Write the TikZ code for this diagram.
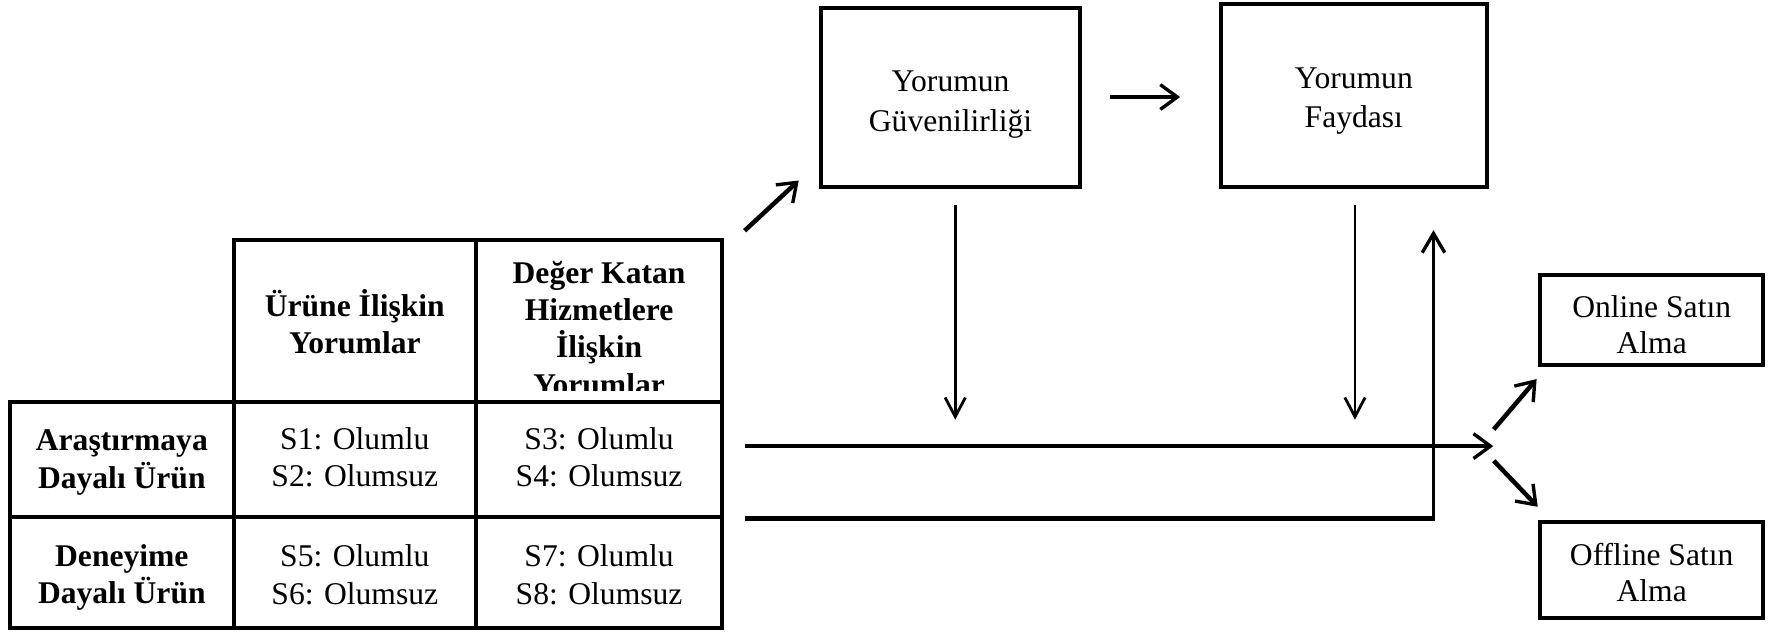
\documentclass[tikz,border=0pt]{standalone}
\usepackage{fontspec}
\setmainfont{Liberation Serif}
\usetikzlibrary{arrows.meta}
\begin{document}
\begin{tikzpicture}[x=1pt,y=-1pt,
  txt/.style={font=\fontsize{28}{33}\selectfont, align=center, inner sep=0pt},
  btxt/.style={font=\fontsize{28}{33}\selectfont\bfseries, align=center, inner sep=0pt},
  box/.style={draw, line width=3.5pt, inner sep=0pt},
  cell/.style={draw, line width=3.5pt, inner sep=0pt},
  thickarrow/.style={line width=4pt, -{Straight Barb[length=15pt,width=22pt,line width=3pt]}},
  thinarrow/.style={line width=2.3pt, -{Straight Barb[length=17pt,width=18pt,line width=2.5pt]}},
  midarrow/.style={line width=3pt, -{Straight Barb[length=17pt,width=20pt,line width=3pt]}},
]
\useasboundingbox (0,0) rectangle (1568,560);

% top boxes
\node[box, minimum width=230pt, minimum height=158pt] (gv) at (842.5,86.5) {};
\node[txt, font=\fontsize{28}{35}\selectfont] (gvt) at (842.5,92.5) {Yorumun\\Güvenilirliği};
\node[box, minimum width=236pt, minimum height=162pt] (fy) at (1200,84.5) {};
\node[txt, font=\fontsize{28}{34}\selectfont] (fyt) at (1200,89.5) {Yorumun\\Faydası};
% outcome boxes
\node[box, minimum width=198pt, minimum height=80pt] (on) at (1464,283.7) {};
\node[txt, font=\fontsize{28}{32}\selectfont] (ont) at (1464,287.7) {Online Satın\\Alma};
\node[box, minimum width=198pt, minimum height=85.5pt] (off) at (1464,505.3) {};
\node[txt, font=\fontsize{28}{32}\selectfont] (offt) at (1464,507.5) {Offline Satın\\Alma};

% table: header 2 text clipped by its cell
\begin{scope}
  \clip (422,213) rectangle (640,346);
  \node[btxt] (h2t) at (531,291) {Değer Katan\\Hizmetlere\\İlişkin\\Yorumlar};
\end{scope}
\node[cell, minimum width=215pt, minimum height=143pt] (h1) at (314.5,284.5) {};
\node[cell, minimum width=218pt, minimum height=143pt] (h2) at (531,284.5) {};
\node[cell, minimum width=198pt, minimum height=102pt] (r1) at (108,407) {};
\node[cell, minimum width=215pt, minimum height=102pt] (c11) at (314.5,407) {};
\node[cell, minimum width=218pt, minimum height=102pt] (c12) at (531,407) {};
\node[cell, minimum width=198pt, minimum height=99pt] (r2) at (108,507.5) {};
\node[cell, minimum width=215pt, minimum height=99pt] (c21) at (314.5,507.5) {};
\node[cell, minimum width=218pt, minimum height=99pt] (c22) at (531,507.5) {};

\node[btxt] (h1t) at (314.5,285) {Ürüne İlişkin\\Yorumlar};
\node[btxt] (r1t) at (108,410) {Araştırmaya\\Dayalı Ürün};
\node[btxt] (r2t) at (108,512) {Deneyime\\Dayalı Ürün};
\node[txt] (c11t) at (314.5,405) {S1: Olumlu\\S2: Olumsuz};
\node[txt] (c12t) at (531,405) {S3: Olumlu\\S4: Olumsuz};
\node[txt] (c21t) at (314.5,509.5) {S5: Olumlu\\S6: Olumsuz};
\node[txt] (c22t) at (531,509.5) {S7: Olumlu\\S8: Olumsuz};

% connector end points
\coordinate (d0) at (660,204.5);
\coordinate (d1) at (708,160);
\coordinate (g0) at (984,86);
\coordinate (g1) at (1046,86);
\coordinate (v1a) at (846.7,182);
\coordinate (v1b) at (846.7,372);
\coordinate (v2a) at (1201,182);
\coordinate (v2b) at (1201,372);
\coordinate (m0) at (660,395.4);
\coordinate (m1) at (1323.6,395.4);
\coordinate (l0) at (660,459.5);
\coordinate (l1) at (1272,459.5);
\coordinate (u0) at (1270.6,461);
\coordinate (u1) at (1270.6,204);
\coordinate (o0) at (1324,380.6);
\coordinate (o1) at (1362,336);
\coordinate (f0) at (1324,408.4);
\coordinate (f1) at (1363,449.2);

\draw[thickarrow] (d0) -- (d1);
\draw[thickarrow] (g0) -- (g1);
\draw[thinarrow] (v1a) -- (v1b);
\draw[thinarrow] (v2a) -- (v2b);
\draw[thickarrow] (m0) -- (m1);
\draw[line width=4pt] (l0) -- (l1);
\draw[midarrow] (u0) -- (u1);
\draw[thickarrow] (o0) -- (o1);
\draw[thickarrow] (f0) -- (f1);
\end{tikzpicture}
\end{document}
